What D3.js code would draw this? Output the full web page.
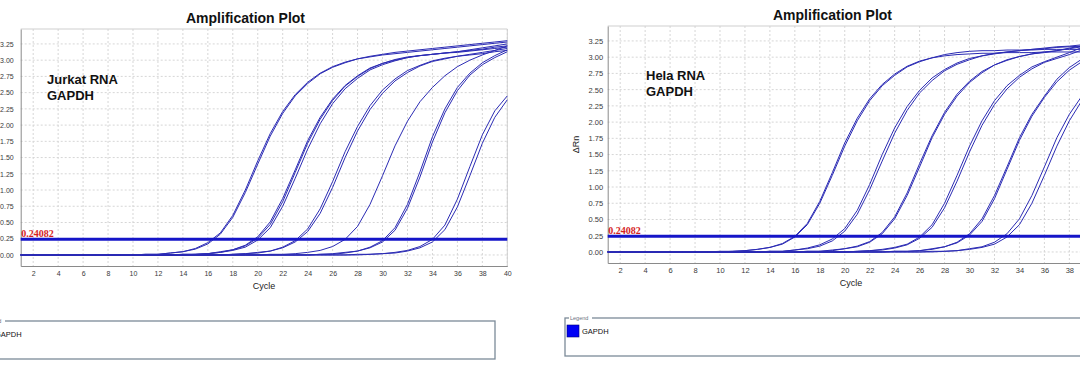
<!DOCTYPE html>
<html>
<head>
<meta charset="utf-8">
<script src="https://cdn.jsdelivr.net/npm/d3@7"></script>
<style>
  body { margin: 0; background: #fff; }
  svg { display: block; font-family: "Liberation Sans", Arial, sans-serif; }
</style>
</head>
<body>
<svg id="chart" width="1080" height="378"></svg>
<script>
const cycles = [1, 2, 3, 4, 5, 6, 7, 8, 9, 10, 11, 12, 13, 14, 15, 16, 17, 18, 19, 20,
  21, 22, 23, 24, 25, 26, 27, 28, 29, 30, 31, 32, 33, 34, 35, 36, 37, 38, 39, 40];
const xTicks = [2, 4, 6, 8, 10, 12, 14, 16, 18, 20, 22, 24, 26, 28, 30, 32, 34, 36, 38, 40];
const yTicks = [0, 0.25, 0.5, 0.75, 1, 1.25, 1.5, 1.75, 2, 2.25, 2.5, 2.75, 3, 3.25];
const threshold = 0.24082;

// delta Rn per cycle, one row per well
const jurkatCurves = [
  [0, 0, 0, 0, 0, 0, 0, 0, 0, 0,
   0.01, 0.01, 0.03, 0.05, 0.10, 0.19, 0.34, 0.61, 1.00, 1.45,
   1.87, 2.21, 2.47, 2.66, 2.80, 2.90, 2.97, 3.02, 3.06, 3.09,
   3.12, 3.14, 3.16, 3.18, 3.20, 3.22, 3.24, 3.26, 3.28, 3.30],
  [0, 0, 0, 0, 0, 0, 0, 0, 0, 0,
   0.01, 0.01, 0.03, 0.05, 0.09, 0.17, 0.32, 0.58, 0.96, 1.40,
   1.83, 2.18, 2.45, 2.64, 2.79, 2.89, 2.96, 3.02, 3.05, 3.08,
   3.10, 3.12, 3.14, 3.16, 3.18, 3.20, 3.22, 3.24, 3.26, 3.28],
  [0, 0, 0, 0, 0, 0, 0, 0, 0, 0,
   0, 0, 0, 0.01, 0.01, 0.02, 0.05, 0.08, 0.15, 0.28,
   0.51, 0.87, 1.31, 1.76, 2.12, 2.40, 2.61, 2.76, 2.88, 2.95,
   3.01, 3.05, 3.07, 3.09, 3.11, 3.13, 3.16, 3.19, 3.22, 3.25],
  [0, 0, 0, 0, 0, 0, 0, 0, 0, 0,
   0, 0, 0, 0.01, 0.01, 0.02, 0.04, 0.08, 0.14, 0.26,
   0.47, 0.82, 1.27, 1.72, 2.09, 2.38, 2.60, 2.75, 2.87, 2.95,
   3.00, 3.04, 3.07, 3.09, 3.11, 3.13, 3.15, 3.17, 3.20, 3.22],
  [0, 0, 0, 0, 0, 0, 0, 0, 0, 0,
   0, 0, 0, 0, 0.01, 0.02, 0.04, 0.07, 0.12, 0.23,
   0.42, 0.75, 1.18, 1.63, 2.02, 2.33, 2.56, 2.72, 2.85, 2.93,
   2.99, 3.04, 3.07, 3.09, 3.11, 3.12, 3.14, 3.16, 3.18, 3.20],
  [0, 0, 0, 0, 0, 0, 0, 0, 0, 0,
   0, 0, 0, 0, 0, 0, 0, 0.01, 0.02, 0.04,
   0.06, 0.12, 0.22, 0.40, 0.71, 1.13, 1.59, 1.98, 2.30, 2.54,
   2.71, 2.84, 2.92, 2.99, 3.03, 3.06, 3.09, 3.12, 3.15, 3.18],
  [0, 0, 0, 0, 0, 0, 0, 0, 0, 0,
   0, 0, 0, 0, 0, 0, 0, 0.01, 0.02, 0.03,
   0.06, 0.11, 0.20, 0.36, 0.64, 1.04, 1.50, 1.91, 2.24, 2.49,
   2.68, 2.81, 2.91, 2.98, 3.02, 3.06, 3.08, 3.10, 3.13, 3.15],
  [0, 0, 0, 0, 0, 0, 0, 0, 0, 0,
   0, 0, 0, 0, 0, 0, 0, 0, 0, 0,
   0.01, 0.01, 0.02, 0.04, 0.07, 0.13, 0.24, 0.44, 0.78, 1.22,
   1.68, 2.06, 2.36, 2.58, 2.76, 2.90, 3.00, 3.08, 3.15, 3.22],
  [0, 0, 0, 0, 0, 0, 0, 0, 0, 0,
   0, 0, 0, 0, 0, 0, 0, 0, 0, 0,
   0, 0, 0, 0, 0.01, 0.02, 0.04, 0.06, 0.12, 0.22,
   0.42, 0.78, 1.28, 1.82, 2.25, 2.58, 2.80, 2.96, 3.07, 3.16],
  [0, 0, 0, 0, 0, 0, 0, 0, 0, 0,
   0, 0, 0, 0, 0, 0, 0, 0, 0, 0,
   0, 0, 0, 0, 0.01, 0.01, 0.03, 0.06, 0.11, 0.20,
   0.38, 0.72, 1.20, 1.74, 2.19, 2.53, 2.77, 2.93, 3.04, 3.13],
  [0, 0, 0, 0, 0, 0, 0, 0, 0, 0,
   0, 0, 0, 0, 0, 0, 0, 0, 0, 0,
   0, 0, 0, 0, 0, 0, 0, 0.01, 0.01, 0.02,
   0.04, 0.07, 0.13, 0.24, 0.46, 0.86, 1.36, 1.85, 2.22, 2.45],
  [0, 0, 0, 0, 0, 0, 0, 0, 0, 0,
   0, 0, 0, 0, 0, 0, 0, 0, 0, 0,
   0, 0, 0, 0, 0, 0, 0, 0, 0.01, 0.02,
   0.03, 0.06, 0.11, 0.20, 0.39, 0.74, 1.22, 1.72, 2.12, 2.39]
];

const helaCurves = [
  [0, 0, 0, 0, 0, 0, 0, 0, 0, 0.01,
   0.01, 0.02, 0.04, 0.07, 0.13, 0.24, 0.44, 0.78, 1.22, 1.68,
   2.06, 2.36, 2.58, 2.74, 2.86, 2.94, 2.99, 3.02, 3.04, 3.05,
   3.06, 3.06, 3.07, 3.07, 3.07, 3.08, 3.08, 3.08, 3.08, 3.09],
  [0, 0, 0, 0, 0, 0, 0, 0, 0, 0,
   0.01, 0.02, 0.04, 0.07, 0.12, 0.23, 0.42, 0.75, 1.18, 1.63,
   2.02, 2.33, 2.56, 2.72, 2.85, 2.93, 2.99, 3.04, 3.07, 3.09,
   3.10, 3.10, 3.11, 3.11, 3.11, 3.12, 3.12, 3.12, 3.12, 3.13],
  [0, 0, 0, 0, 0, 0, 0, 0, 0, 0,
   0, 0, 0, 0.01, 0.01, 0.03, 0.06, 0.11, 0.20, 0.36,
   0.64, 1.04, 1.50, 1.91, 2.24, 2.49, 2.68, 2.81, 2.91, 2.98,
   3.02, 3.06, 3.08, 3.10, 3.12, 3.13, 3.15, 3.16, 3.17, 3.18],
  [0, 0, 0, 0, 0, 0, 0, 0, 0, 0,
   0, 0, 0, 0.01, 0.01, 0.03, 0.05, 0.09, 0.17, 0.32,
   0.58, 0.96, 1.40, 1.83, 2.18, 2.45, 2.64, 2.79, 2.89, 2.96,
   3.02, 3.05, 3.08, 3.10, 3.12, 3.14, 3.16, 3.17, 3.19, 3.20],
  [0, 0, 0, 0, 0, 0, 0, 0, 0, 0,
   0, 0, 0, 0, 0, 0, 0.01, 0.01, 0.03, 0.05,
   0.09, 0.16, 0.30, 0.54, 0.91, 1.36, 1.79, 2.15, 2.43, 2.63,
   2.78, 2.88, 2.96, 3.01, 3.05, 3.08, 3.10, 3.13, 3.16, 3.19],
  [0, 0, 0, 0, 0, 0, 0, 0, 0, 0,
   0, 0, 0, 0, 0, 0, 0.01, 0.01, 0.02, 0.05,
   0.08, 0.15, 0.28, 0.51, 0.87, 1.31, 1.76, 2.12, 2.40, 2.61,
   2.76, 2.88, 2.95, 3.01, 3.05, 3.07, 3.10, 3.14, 3.17, 3.21],
  [0, 0, 0, 0, 0, 0, 0, 0, 0, 0,
   0, 0, 0, 0, 0, 0, 0, 0, 0, 0,
   0.01, 0.02, 0.04, 0.07, 0.12, 0.23, 0.42, 0.75, 1.18, 1.63,
   2.02, 2.33, 2.56, 2.72, 2.85, 2.93, 3.00, 3.07, 3.15, 3.22],
  [0, 0, 0, 0, 0, 0, 0, 0, 0, 0,
   0, 0, 0, 0, 0, 0, 0, 0, 0, 0,
   0.01, 0.02, 0.03, 0.06, 0.11, 0.21, 0.38, 0.68, 1.09, 1.54,
   1.95, 2.27, 2.51, 2.69, 2.82, 2.92, 2.98, 3.04, 3.11, 3.18],
  [0, 0, 0, 0, 0, 0, 0, 0, 0, 0,
   0, 0, 0, 0, 0, 0, 0, 0, 0, 0,
   0, 0, 0, 0.01, 0.01, 0.02, 0.05, 0.08, 0.15, 0.28,
   0.51, 0.87, 1.31, 1.76, 2.12, 2.40, 2.66, 2.84, 2.97, 3.06],
  [0, 0, 0, 0, 0, 0, 0, 0, 0, 0,
   0, 0, 0, 0, 0, 0, 0, 0, 0, 0,
   0, 0, 0, 0.01, 0.01, 0.02, 0.04, 0.08, 0.14, 0.26,
   0.47, 0.82, 1.27, 1.72, 2.09, 2.38, 2.62, 2.80, 2.93, 3.02],
  [0, 0, 0, 0, 0, 0, 0, 0, 0, 0,
   0, 0, 0, 0, 0, 0, 0, 0, 0, 0,
   0, 0, 0, 0, 0, 0, 0.01, 0.01, 0.02, 0.05,
   0.08, 0.15, 0.28, 0.51, 0.87, 1.31, 1.76, 2.12, 2.40, 2.61],
  [0, 0, 0, 0, 0, 0, 0, 0, 0, 0,
   0, 0, 0, 0, 0, 0, 0, 0, 0, 0,
   0, 0, 0, 0, 0, 0, 0, 0.01, 0.02, 0.04,
   0.07, 0.12, 0.23, 0.42, 0.75, 1.18, 1.63, 2.02, 2.33, 2.56]
];

const sampleNames = ["Jurkat RNA", "Hela RNA"];
const targetName = "GAPDH";

const svg = d3.select("#chart");
const plot = { left: 20.7, right: 507.3, top: 29, bottom: 266 };
const lineColor = "#2b2bb4";

const panels = [
  { curves: jurkatCurves, sample: sampleNames[0], dx: 0, dy: 0, noteX: 47, noteY: 84.3, labelPad: 7, tickFont: 7 },
  { curves: helaCurves, sample: sampleNames[1], dx: 587, dy: -3, noteX: 59, noteY: 83, labelPad: 4.5, tickFont: 7.5 }
];

panels.forEach(function (p) {
  const g = svg.append("g").attr("transform", `translate(${p.dx},${p.dy})`);

  const x = d3.scaleLinear().domain([1, 40]).range([plot.left, plot.right]);
  const y = d3.scaleLinear().domain([-0.17, 3.48]).range([plot.bottom, plot.top]);

  // dotted grid
  g.append("g")
    .selectAll("line")
    .data(xTicks)
    .enter()
    .append("line")
    .attr("x1", (d) => x(d))
    .attr("x2", (d) => x(d))
    .attr("y1", plot.top)
    .attr("y2", plot.bottom)
    .style("stroke", "#d6d6d6")
    .style("stroke-dasharray", "2,2");

  g.append("g")
    .selectAll("line")
    .data(yTicks)
    .enter()
    .append("line")
    .attr("x1", plot.left)
    .attr("x2", plot.right)
    .attr("y1", (d) => y(d))
    .attr("y2", (d) => y(d))
    .style("stroke", "#d6d6d6")
    .style("stroke-dasharray", "2,2");

  // frame (top and right)
  g.append("path")
    .attr("d", `M${plot.left},${plot.top}H${plot.right}V${plot.bottom}`)
    .style("fill", "none")
    .style("stroke", "#cfcfcf");

  const xAxis = g
    .append("g")
    .attr("transform", `translate(0,${plot.bottom})`)
    .call(d3.axisBottom(x).tickValues(xTicks).tickSize(0).tickPadding(5));

  const yAxis = g
    .append("g")
    .attr("transform", `translate(${plot.left},0)`)
    .call(
      d3.axisLeft(y)
        .tickValues(yTicks)
        .tickSize(0)
        .tickPadding(p.labelPad)
        .tickFormat(d3.format(".2f"))
    );

  [xAxis, yAxis].forEach(function (a) {
    a.select(".domain").style("stroke", "#8a8a8a");
    a.selectAll("text")
      .style("font-family", "'Liberation Sans', Arial, sans-serif")
      .style("font-size", p.tickFont + "px")
      .style("fill", "#3a3a3a");
  });

  // amplification curves
  const line = d3
    .line()
    .x((d, i) => x(cycles[i]))
    .y((d) => y(d));

  g.append("g")
    .selectAll("path")
    .data(p.curves)
    .enter()
    .append("path")
    .attr("d", line)
    .style("fill", "none")
    .style("stroke", lineColor)
    .style("stroke-width", 1);

  // threshold
  g.append("line")
    .attr("x1", x(1))
    .attr("x2", x(40))
    .attr("y1", y(threshold))
    .attr("y2", y(threshold))
    .style("stroke", "#1515c8")
    .style("stroke-width", 3);

  g.append("text")
    .attr("x", plot.left + 0.5)
    .attr("y", y(threshold) - 2.8)
    .style("font-family", "'Liberation Serif', 'Times New Roman', serif")
    .style("font-weight", "bold")
    .style("font-size", "10px")
    .style("fill", "#d61e1e")
    .text(threshold);

  // titles
  g.append("text")
    .attr("x", 245.5)
    .attr("y", 22.7)
    .style("text-anchor", "middle")
    .style("font-weight", "bold")
    .style("font-size", "14px")
    .style("fill", "#111")
    .text("Amplification Plot");

  g.append("text")
    .attr("x", (plot.left + plot.right) / 2)
    .attr("y", 289)
    .style("text-anchor", "middle")
    .style("font-size", "9px")
    .style("fill", "#222")
    .text("Cycle");

  g.append("text")
    .attr("transform", `translate(-8,${(plot.top + plot.bottom) / 2}) rotate(-90)`)
    .style("text-anchor", "middle")
    .style("font-size", "9px")
    .style("fill", "#222")
    .text("\u0394Rn");

  const note = g
    .append("text")
    .style("font-weight", "bold")
    .style("font-size", "13px")
    .style("fill", "#111");
  note.append("tspan").attr("x", p.noteX).attr("y", p.noteY).text(p.sample);
  note.append("tspan").attr("x", p.noteX).attr("y", p.noteY + 15.7).text(targetName);

  // legend box
  const legend = g.append("g").attr("transform", "translate(-22,321)");
  legend
    .append("rect")
    .attr("width", 517)
    .attr("height", 38)
    .style("fill", "none")
    .style("stroke", "#7c8a98")
    .style("stroke-width", 1.3);
  legend
    .append("rect")
    .attr("x", 4)
    .attr("y", -3)
    .attr("width", 23)
    .attr("height", 6)
    .style("fill", "#fff");
  legend
    .append("text")
    .attr("x", 5)
    .attr("y", 2)
    .style("font-size", "5.5px")
    .style("fill", "#6a7380")
    .text("Legend");
  legend
    .append("rect")
    .attr("x", 2)
    .attr("y", 7)
    .attr("width", 12)
    .attr("height", 12)
    .style("fill", "#0000f5")
    .style("stroke", "#00007a")
    .style("stroke-width", 0.6);
  legend
    .append("text")
    .attr("x", 17)
    .attr("y", 16.3)
    .style("font-size", "7.5px")
    .style("fill", "#111")
    .text(targetName);
});
</script>
</body>
</html>
